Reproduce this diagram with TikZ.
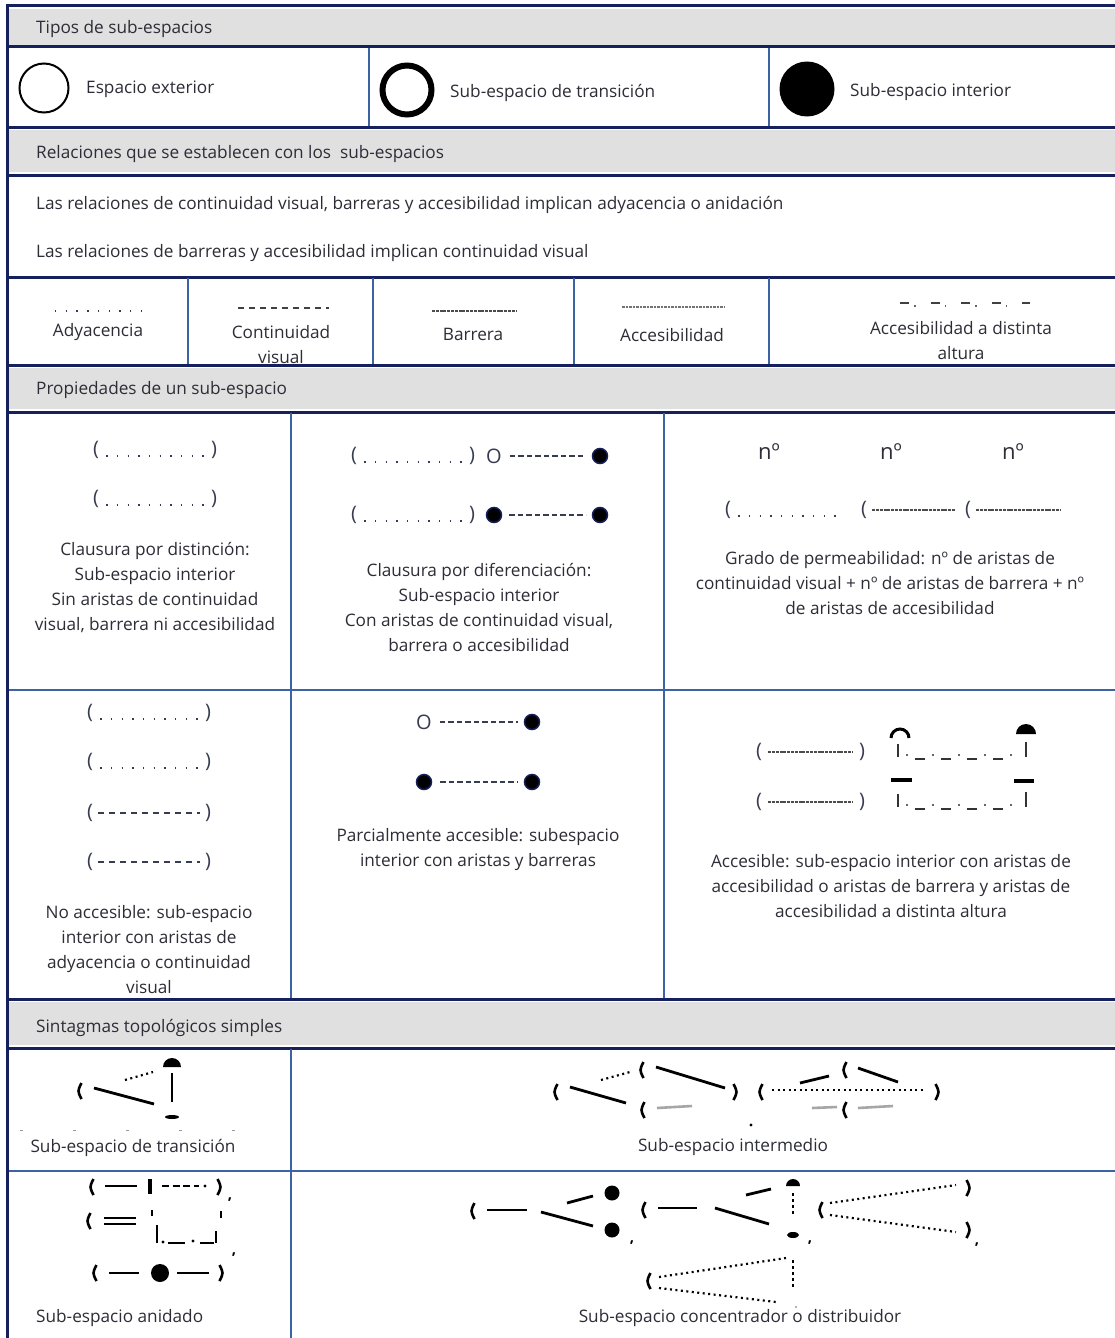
\documentclass[tikz,border=0pt]{standalone}
\usepackage{fontspec}
\setmainfont{Open Sans}
\definecolor{navy}{RGB}{22,32,92}
\definecolor{rulec}{RGB}{60,100,165}
\definecolor{hdr}{RGB}{224,224,224}
\definecolor{ink}{RGB}{45,45,55}
\definecolor{dotc}{RGB}{55,60,80}
\tikzset{
  thickrule/.style={navy, line width=3pt},
  thinrule/.style={rulec, line width=1.5pt},
  lbl/.style={text=ink, font=\fontsize{17.2}{25}\selectfont, inner sep=0pt, yshift=-1.5pt},
  lft/.style={lbl, anchor=west},
  ctr/.style={lbl, align=center},
  glyph/.style={text=dotc, font=\fontsize{20}{22}\selectfont, inner sep=0pt},
  bigno/.style={text=ink, font=\fontsize{22}{24}\selectfont, inner sep=0pt},
  adyline/.style={dotc, line width=1.6pt, dash pattern=on 1.4pt off 9.3pt},
  contline/.style={black!75, line width=2pt, dash pattern=on 6pt off 5pt},
  barline/.style={black!70, line width=1.3pt, dash pattern=on 3pt off 0.8pt},
  accline/.style={black!55, line width=2pt, dash pattern=on 2.5pt off 1pt},
  smalldash/.style={dotc, line width=1.8pt, dash pattern=on 5.5pt off 3pt},
  bigdash/.style={dotc, line width=2pt, dash pattern=on 6pt off 5pt},
  bluedot/.style={circle, fill=black, draw=navy, line width=1.5pt, minimum size=15pt, inner sep=0pt},
  brk/.style={black, line width=2.6pt},
  stk/.style={black, line width=2.8pt},
  fadestk/.style={black!35, line width=2.6pt},
  dotk/.style={black, line width=2.2pt, dash pattern=on 2pt off 3.5pt},
  vdotk/.style={black, line width=2.8pt, dash pattern=on 3pt off 3pt},
}
\newcommand{\mylp}[2]{\draw[brk] ({#1+1.5},{#2-8}) .. controls ({#1-2.5},{#2}) .. ({#1+1.5},{#2+8});}
\newcommand{\myrp}[2]{\draw[brk] ({#1-1.5},{#2-8}) .. controls ({#1+2.5},{#2}) .. ({#1-1.5},{#2+8});}
\newcommand{\mycomma}[3]{\node[inner sep=0pt, font=\fontsize{15}{15}\selectfont\bfseries] (#1) at (#2,#3) {,};}
% name, x left paren, x right paren, y, line style, line y-shift, gap
\newcommand{\pgrp}[7]{%
  \node[glyph] (#1l) at (#2,#4) {(};
  \node[glyph] (#1r) at (#3,#4) {)};
  \draw[#5] ([xshift=#7,yshift=#6]#1l.east) -- ([xshift=-#7,yshift=#6]#1r.west);
}
\begin{document}
\begin{tikzpicture}[x=1pt,y=-1pt]
\useasboundingbox (0,0) rectangle (1115,1338);
\fill[white] (0,0) rectangle (1115,1338);
% header bars
\fill[hdr] (9,9) rectangle (1115,45);
\fill[hdr] (9,130) rectangle (1115,172);
\fill[hdr] (9,368) rectangle (1115,409);
\fill[hdr] (9,1002) rectangle (1115,1045);
% rules
\foreach \yy in {6,47,127,175,277,365,412,999,1048} {\draw[thickrule] (6,\yy) -- (1115,\yy);}
\foreach \yy in {690,1171} {\draw[thinrule] (8,\yy) -- (1115,\yy);}
\draw[thickrule] (7,5) -- (7,1338);
\foreach \xx in {369,769} {\draw[thinrule] (\xx,48) -- (\xx,126);}
\foreach \xx in {188,373,574,769} {\draw[thinrule] (\xx,278) -- (\xx,364);}
\foreach \xx in {291,664} {\draw[thinrule] (\xx,413) -- (\xx,998);}
\draw[thinrule] (291,1049) -- (291,1338);

% ---------- Tipos de sub-espacios
\node[lft] (h1) at (36,28) {Tipos de sub-espacios};
\node[circle, draw=black, line width=2pt, minimum size=49pt, inner sep=0pt] (c1) at (44,88) {};
\node[lft] (t1) at (86,88) {Espacio exterior};
\node[circle, draw=black, line width=6pt, minimum size=49pt, inner sep=0pt] (c2) at (407,90) {};
\node[lft] (t2) at (450,91) {Sub-espacio de transición};
\node[circle, fill=black, minimum size=55pt, inner sep=0pt] (c3) at (807,89) {};
\node[lft] (t3) at (850,91) {Sub-espacio interior};

% ---------- Relaciones
\node[lft] (h2) at (36,153) {Relaciones que se establecen con los\ \ sub-espacios};
\node[lft] (r1) at (36,203) {Las relaciones de continuidad visual, barreras y accesibilidad implican adyacencia o anidación};
\node[lft] (r2) at (36,252) {Las relaciones de barreras y accesibilidad implican continuidad visual};

% line types
\coordinate (a1) at (55,311); \coordinate (a2) at (145,311);
\draw[adyline] (a1) -- (a2);
\node[ctr] (l1) at (98,331) {Adyacencia};
\coordinate (b1) at (238,308); \coordinate (b2) at (329,308);
\draw[contline] (b1) -- (b2);
\node[ctr] (l2) at (281,343.5) {Continuidad\\visual};
\coordinate (d1) at (432,311); \coordinate (d2) at (516,311);
\draw[barline] (d1) -- (d2);
\node[ctr] (l3) at (473,333) {Barrera};
\coordinate (e1) at (622,307); \coordinate (e2) at (725,307);
\draw[accline] (e1) -- (e2);
\node[ctr] (l4) at (672,334) {Accesibilidad};
\coordinate (f1) at (900,303); \coordinate (f2) at (1030,303);
\draw[black!75, line width=2pt, dash pattern=on 9pt off 21.5pt] (f1) -- (f2);
\draw[black!60, line width=1.5pt, dash pattern=on 1.5pt off 29pt] ([xshift=14pt,yshift=-3pt]f1) -- ([yshift=-3pt]f2);
\node[ctr] (l5) at (961,339.5) {Accesibilidad a distinta\\altura};

% ---------- Propiedades
\node[lft] (h3) at (36,389) {Propiedades de un sub-espacio};

% cell 1
\pgrp{pa}{96}{214}{450}{adyline}{-6pt}{7pt}
\pgrp{pb}{96}{214}{499}{adyline}{-6pt}{7pt}
\node[ctr] (pt1) at (155,586) {Clausura por distinción:\\Sub-espacio interior\\Sin aristas de continuidad\\visual, barrera ni accesibilidad};

% cell 2
\pgrp{pc}{354}{472}{456}{adyline}{-6pt}{7pt}
\node[glyph] (o1) at (494,456) {O};
\node[bluedot] (k1) at (600,456) {};
\draw[smalldash] ([xshift=8pt]o1.east) -- ([xshift=-6pt]k1.west);
\pgrp{pd}{354}{472}{515}{adyline}{-6pt}{7pt}
\node[bluedot] (k2) at (494,515) {};
\node[bluedot] (k3) at (600,515) {};
\draw[smalldash] ([xshift=7pt]k2.east) -- ([xshift=-6pt]k3.west);
\node[ctr] (pt2) at (479,605.5) {Clausura por diferenciación:\\Sub-espacio interior\\Con aristas de continuidad visual,\\barrera o accesibilidad};

% cell 3
\node[bigno] (n1) at (769,452) {nº};
\node[bigno] (n2) at (891,452) {nº};
\node[bigno] (n3) at (1013,452) {nº};
\node[glyph] (g1) at (728,510) {(};
\coordinate (g1e) at (836,516);
\draw[adyline] ([xshift=7pt,yshift=-6pt]g1.east) -- (g1e);
\node[glyph] (g2) at (864,510) {(};
\coordinate (g2e) at (955,510);
\draw[barline] ([xshift=5pt]g2.east) -- (g2e);
\node[glyph] (g3) at (968,510) {(};
\coordinate (g3e) at (1060,510);
\draw[barline] ([xshift=5pt]g3.east) -- (g3e);
\node[ctr] (pt3) at (890,582) {Grado de permeabilidad: nº de aristas de\\continuidad visual + nº de aristas de barrera + nº\\de aristas de accesibilidad};

% row 2 cell 1
\pgrp{pe}{90}{208}{713}{adyline}{-6pt}{7pt}
\pgrp{pf}{90}{208}{762}{adyline}{-6pt}{7pt}
\pgrp{pg}{90}{208}{813}{bigdash}{0pt}{5pt}
\pgrp{ph}{90}{208}{862}{bigdash}{0pt}{5pt}
\node[ctr] (pt4) at (149,948.5) {No accesible: sub-espacio\\interior con aristas de\\adyacencia o continuidad\\visual};

% row 2 cell 2
\node[glyph] (o2) at (424,722) {O};
\node[bluedot] (k4) at (532,722) {};
\draw[smalldash] ([xshift=8pt]o2.east) -- ([xshift=-6pt]k4.west);
\node[bluedot] (k5) at (424,782) {};
\node[bluedot] (k6) at (532,782) {};
\draw[smalldash] ([xshift=8pt]k5.east) -- ([xshift=-6pt]k6.west);
\node[ctr] (pt5) at (478,848) {Parcialmente accesible: subespacio\\interior con aristas y barreras};

% row 2 cell 3
\pgrp{pi}{759}{862}{752}{barline}{0pt}{6pt}
\pgrp{pj}{759}{862}{802}{barline}{0pt}{6pt}
\draw[black, line width=3pt] (891,738) arc(180:360:9);
\fill[black] (1016,734) arc(180:360:10) -- cycle;
\foreach \yb in {0,50} {
  \draw[black!80, line width=2pt] (898,744+\yb) -- (898,757+\yb);
  \draw[black!80, line width=2pt] (1026,742+\yb) -- (1026,757+\yb);
  \draw[black!80, line width=2pt, dash pattern=on 10pt off 16pt] (915,759+\yb) -- (1016,759+\yb);
  \draw[black!60, line width=1.6pt, dash pattern=on 1.6pt off 24.4pt] (906,755+\yb) -- (1016,755+\yb);
}
\draw[black, line width=4pt] (891,780) -- (912,780);
\draw[black, line width=4pt] (1014,781) -- (1034,781);
\node[ctr] (pt6) at (891,885) {Accesible: sub-espacio interior con aristas de\\accesibilidad o aristas de barrera y aristas de\\accesibilidad a distinta altura};

% ---------- Sintagmas
\node[lft] (h4) at (36,1026) {Sintagmas topológicos simples};

% transicion
\mylp{80}{1091}
\draw[stk] (94,1088) -- (154,1104);
\draw[dotk] (125,1080) -- (153,1072);
\fill[black] (163,1067) arc(180:360:9) -- cycle;
\draw[stk] (172,1073) -- (172,1102);
\fill[black] (172,1117) ellipse (7 and 2);
\draw[black!40, line width=1pt, dash pattern=on 3pt off 50pt] (20,1130) -- (235,1130);
\node[ctr] (s1) at (133,1146) {Sub-espacio de transición};

% intermedio
\mylp{556}{1092}
\draw[stk] (570,1087) -- (626,1103);
\draw[dotk] (601,1080) -- (630,1072);
\mylp{642}{1070}
\draw[stk] (656,1067) -- (725,1088);
\myrp{735}{1092}
\mylp{643}{1110}
\draw[fadestk] (657,1108) -- (692,1106);
\fill[black] (751,1125) circle (1.6);
\mylp{761}{1092}
\draw[dotk] (772,1090) -- (925,1090);
\myrp{937}{1092}
\draw[stk] (800,1083) -- (829,1076);
\mylp{845}{1070}
\draw[stk] (858,1068) -- (898,1082);
\draw[fadestk] (812,1108) -- (837,1107);
\mylp{845}{1110}
\draw[fadestk] (858,1108) -- (893,1106);
\node[ctr] (s2) at (733,1146) {Sub-espacio intermedio};

% anidado
\mylp{92}{1187}
\draw[stk] (105,1186) -- (137,1186);
\draw[black, line width=3.5pt] (150,1179) -- (150,1194);
\draw[black, line width=2.6pt, dash pattern=on 7pt off 3.5pt] (162,1186) -- (199,1186);
\fill[black] (205,1186) circle (1.6);
\myrp{219}{1187}
\mycomma{cm1}{230}{1200}
\mylp{89}{1221}
\draw[black, line width=1.6pt] (104,1218) -- (136,1218);
\draw[black, line width=1.6pt] (104,1224) -- (136,1224);
\draw[stk] (152,1210) -- (152,1216);
\draw[stk] (221,1211) -- (221,1218);
\draw[stk] (157,1225) -- (157,1243);
\fill[black] (163,1242) circle (1.6);
\draw[stk] (168,1243) -- (185,1243);
\fill[black] (193,1241) circle (1.6);
\draw[stk] (200,1243) -- (214,1243);
\draw[stk] (216,1231) -- (216,1243);
\mycomma{cm2}{234}{1255}
\mylp{95}{1273}
\draw[stk] (109,1273) -- (139,1273);
\node[circle, fill=black, minimum size=18pt, inner sep=0pt] (an1) at (160,1273) {};
\draw[stk] (177,1273) -- (209,1273);
\myrp{221}{1273}
\node[lft] (s3) at (36,1317) {Sub-espacio anidado};

% concentrador
\mylp{473}{1211}
\draw[stk] (487,1210) -- (527,1210);
\draw[stk] (541,1212) -- (593,1226);
\draw[stk] (567,1203) -- (593,1196);
\node[circle, fill=black, minimum size=15pt, inner sep=0pt] (cn1) at (612,1193) {};
\node[circle, fill=black, minimum size=15pt, inner sep=0pt] (cn2) at (612,1230) {};
\mycomma{cm3}{632}{1243}
\mylp{644}{1210}
\draw[stk] (658,1208) -- (697,1208);
\draw[stk] (715,1208) -- (769,1224);
\draw[stk] (746,1195) -- (771,1189);
\fill[black] (786,1186) arc(180:360:7) -- cycle;
\draw[vdotk] (793,1193) -- (793,1216);
\fill[black] (793,1235) ellipse (6 and 3);
\mycomma{cm4}{810}{1243}
\mylp{821}{1210}
\draw[dotk] (830,1203) -- (956,1185);
\myrp{968}{1188}
\draw[dotk] (830,1215) -- (956,1232);
\myrp{968}{1230}
\mycomma{cm5}{977}{1245}
\mylp{649}{1281}
\draw[dotk] (659,1277) -- (786,1258);
\draw[dotk] (659,1288) -- (776,1302);
\draw[vdotk] (793,1260) -- (793,1287);
\fill[black!40] (796,1307) circle (1.2);
\node[ctr] (s4) at (740,1317) {Sub-espacio concentrador o distribuidor};
\end{tikzpicture}
\end{document}
